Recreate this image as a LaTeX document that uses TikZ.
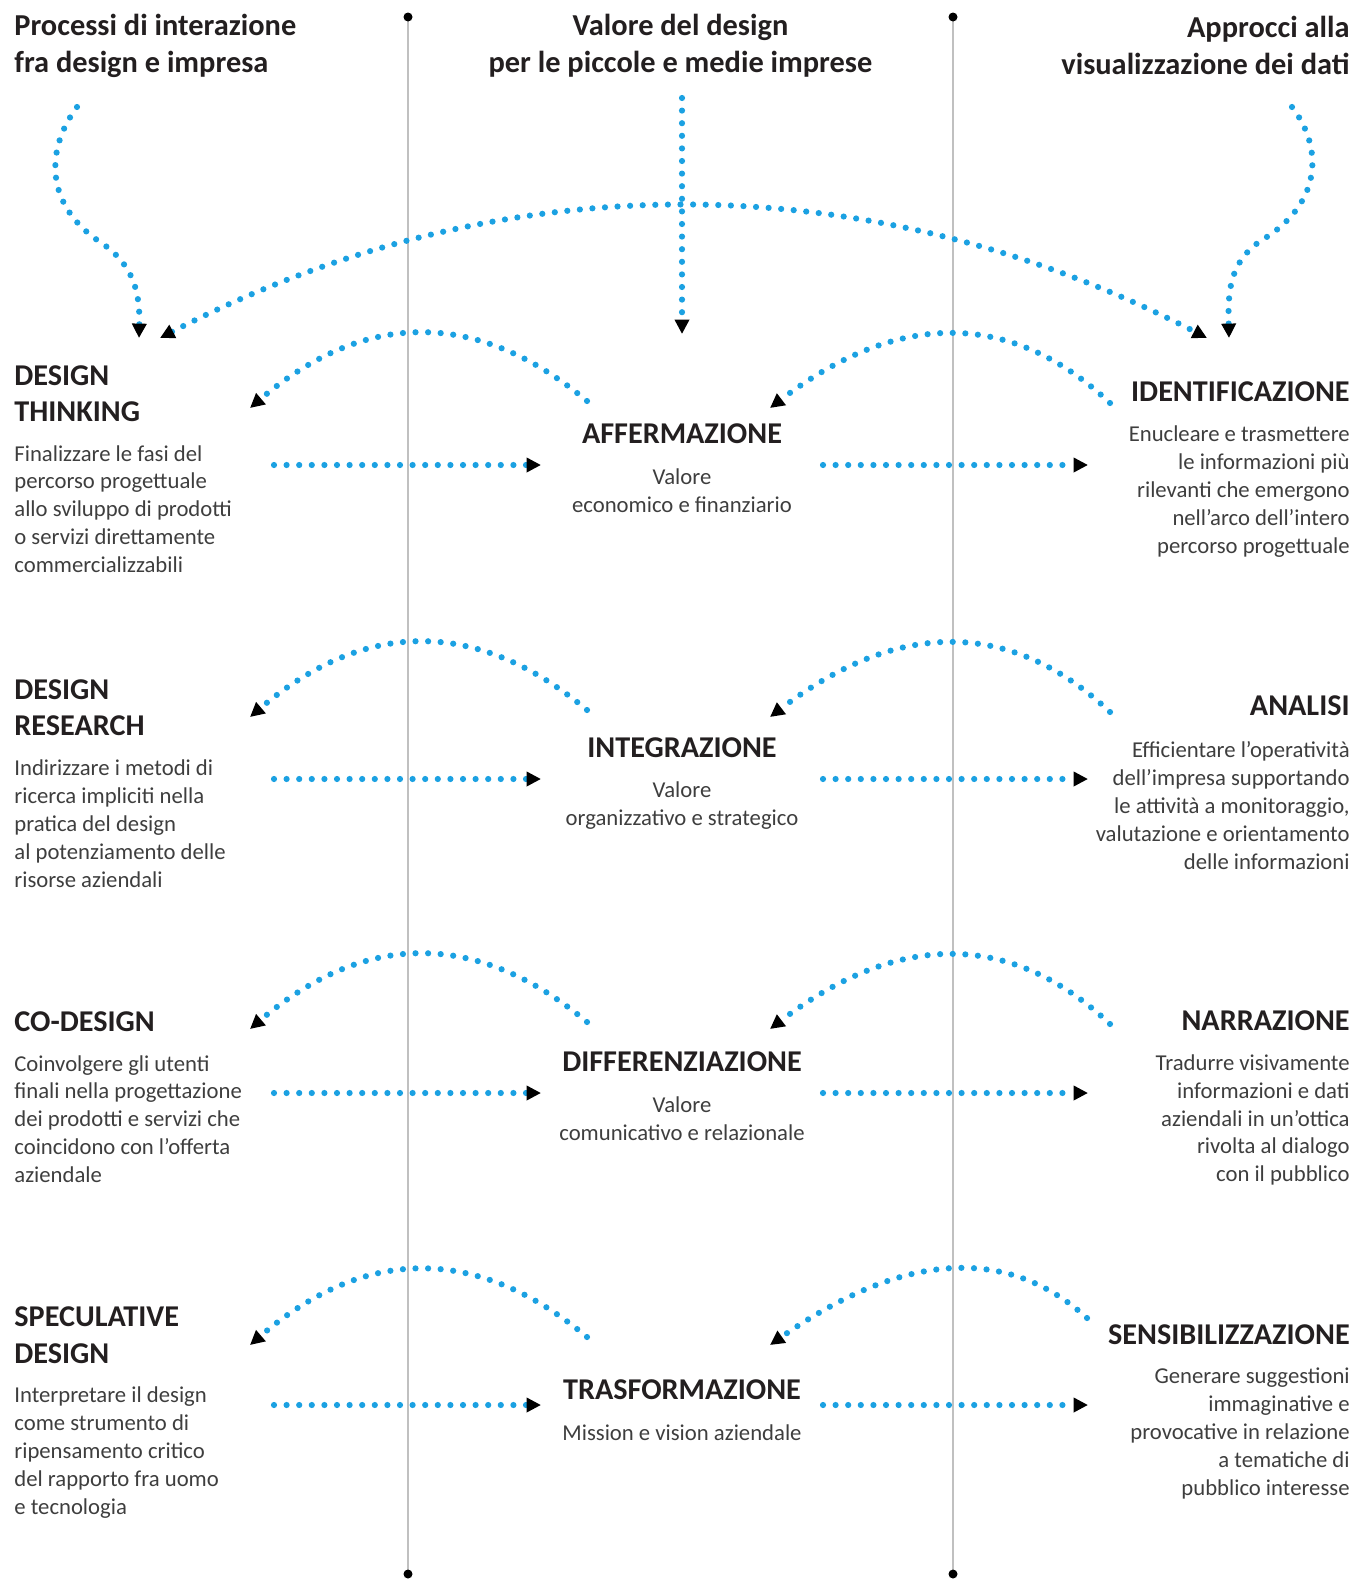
\documentclass[tikz,border=0pt]{standalone}
\usepackage{fontspec}
\setmainfont{Carlito}
\usetikzlibrary{arrows.meta}

\definecolor{dotblue}{RGB}{27,161,226}
\definecolor{rulegray}{RGB}{192,192,192}
\definecolor{inkdark}{RGB}{35,31,32}
\definecolor{inkgray}{RGB}{62,62,62}

\tikzset{
  hdr/.style={font=\fontsize{15.2}{18.5}\selectfont\bfseries, text=inkdark, inner sep=0pt},
  ttl/.style={font=\fontsize{15.1}{18.25}\selectfont\bfseries, text=inkdark, inner sep=0pt},
  txt/.style={font=\fontsize{11.35}{13.95}\selectfont, text=inkgray, inner sep=0pt},
  dots/.style={draw=dotblue, line width=3.1pt, line cap=round, dash pattern=on 0pt off 6.3pt},
  dotarrow/.style={dots, -{Triangle[length=7.2pt,width=7pt,color=black,fill=black]}},
  rule/.style={draw=rulegray, line width=1pt},
}

\begin{document}
\begin{tikzpicture}[x=0.5pt,y=0.5pt,yscale=-1,xscale=1]
\useasboundingbox (0,0) rectangle (1356,1579);

%Vertical rules
\coordinate (topl) at (408,17); \coordinate (botl) at (408,1574);
\coordinate (topr) at (953,17); \coordinate (botr) at (953,1574);
\draw [rule] (topl) -- (botl);
\draw [rule] (topr) -- (botr);
\fill [black] (topl) circle (4.5) (botl) circle (4.5) (topr) circle (4.5) (botr) circle (4.5);

% Text Node
\node [hdr, anchor=west, align=left] (hproc) at (14,46) {Processi di interazione\\fra design e impresa};
% Text Node
\node [hdr, anchor=center, align=center] (hval) at (680.5,46) {Valore del design\\per le piccole e medie imprese};
% Text Node
\node [hdr, anchor=east, align=right] (happ) at (1350,45) {Approcci alla\\visualizzazione dei dati};

% Text Node
\node [ttl, anchor=west, align=left] (dthink) at (14,393.5) {DESIGN\\THINKING};
\node [txt, anchor=west, align=left] (dthinkb) at (14,509) {Finalizzare le fasi del\\percorso progettuale\\allo sviluppo di prodotti\\o servizi direttamente\\commercializzabili};
\node [ttl] (affer) at (682,434) {AFFERMAZIONE};
\node [txt, align=center] (afferb) at (682,491) {Valore\\economico e finanziario};
\node [ttl, anchor=east] (ident) at (1350,391.5) {IDENTIFICAZIONE};
\node [txt, anchor=east, align=right] (identb) at (1350,491.5) {Enucleare e trasmettere\\le informazioni più\\rilevanti che emergono\\nell’arco dell’intero\\percorso progettuale};

% Text Node
\node [ttl, anchor=west, align=left] (dres) at (14,707.5) {DESIGN\\RESEARCH};
\node [txt, anchor=west, align=left] (dresb) at (14,823.5) {Indirizzare i metodi di\\ricerca impliciti nella\\pratica del design\\al potenziamento delle\\risorse aziendali};
\node [ttl] (integ) at (682,748) {INTEGRAZIONE};
\node [txt, align=center] (integb) at (682,805.5) {Valore\\organizzativo e strategico};
\node [ttl, anchor=east] (anal) at (1350,705.5) {ANALISI};
\node [txt, anchor=east, align=right] (analb) at (1350,805.5) {Efficientare l’operatività\\dell’impresa supportando\\le attività a monitoraggio,\\valutazione e orientamento\\delle informazioni};

% Text Node
\node [ttl, anchor=west] (codes) at (14,1021.5) {CO-DESIGN};
\node [txt, anchor=west, align=left] (codesb) at (14,1119) {Coinvolgere gli utenti\\finali nella progettazione\\dei prodotti e servizi che\\coincidono con l’offerta\\aziendale};
\node [ttl] (diff) at (682,1061.5) {DIFFERENZIAZIONE};
\node [txt, align=center] (diffb) at (682,1119) {Valore\\comunicativo e relazionale};
\node [ttl, anchor=east] (narr) at (1350,1020.5) {NARRAZIONE};
\node [txt, anchor=east, align=right] (narrb) at (1350,1120) {Tradurre visivamente\\informazioni e dati\\aziendali in un’ottica\\rivolta al dialogo\\con il pubblico};

% Text Node
\node [ttl, anchor=west, align=left] (spec) at (14,1335) {SPECULATIVE\\DESIGN};
\node [txt, anchor=west, align=left] (specb) at (14,1452.5) {Interpretare il design\\come strumento di\\ripensamento critico\\del rapporto fra uomo\\e tecnologia};
\node [ttl] (trasf) at (682,1389.5) {TRASFORMAZIONE};
\node [txt] (trasfb) at (682,1432.5) {Mission e vision aziendale};
\node [ttl, anchor=east] (sens) at (1350,1334.5) {SENSIBILIZZAZIONE};
\node [txt, anchor=east, align=right] (sensb) at (1350,1433.5) {Generare suggestioni\\immaginative e\\provocative in relazione\\a tematiche di\\pubblico interesse};

%Curve Lines (top)
\coordinate (sl) at (77,107); \coordinate (el) at (139,338);
\coordinate (sr) at (1292,107); \coordinate (er) at (1229,338);
\coordinate (sc) at (682,98); \coordinate (ec) at (682,334);
\coordinate (al) at (160,338); \coordinate (ar) at (1207,338);
\draw [dotarrow] (sl) .. controls (45,150) and (45,205) .. (100,242) .. controls (135,265) and (140,295) .. (el);
\draw [dotarrow] (sr) .. controls (1325,150) and (1320,205) .. (1262,240) .. controls (1228,262) and (1228,295) .. (er);
\draw [dotarrow] (sc) -- (ec);
\draw [dotarrow, {Triangle[length=7.2pt,width=7pt,color=black,fill=black]}-{Triangle[length=7.2pt,width=7pt,color=black,fill=black]}] (al) .. controls (500,162) and (867,162) .. (ar);

%Curve Lines (row 1)
\coordinate (l1s) at (587,401); \coordinate (l1e) at (250,408);
\coordinate (r1s) at (1110,403); \coordinate (r1e) at (770,408);
\coordinate (h1a) at (274,465); \coordinate (h1b) at (541,465);
\coordinate (h1c) at (823,465); \coordinate (h1d) at (1088,465);
\draw [dotarrow] (l1s) .. controls (476,308) and (364,311) .. (l1e);
\draw [dotarrow] (r1s) .. controls (1010,309) and (897,311) .. (r1e);
\draw [dotarrow] (h1a) -- (h1b);
\draw [dotarrow] (h1c) -- (h1d);

%Curve Lines (row 2)
\coordinate (l2s) at (587,710); \coordinate (l2e) at (250,717);
\coordinate (r2s) at (1110,712); \coordinate (r2e) at (770,717);
\coordinate (h2a) at (274,779); \coordinate (h2b) at (541,779);
\coordinate (h2c) at (823,779); \coordinate (h2d) at (1088,779);
\draw [dotarrow] (l2s) .. controls (476,617) and (364,620) .. (l2e);
\draw [dotarrow] (r2s) .. controls (1010,618) and (897,620) .. (r2e);
\draw [dotarrow] (h2a) -- (h2b);
\draw [dotarrow] (h2c) -- (h2d);

%Curve Lines (row 3)
\coordinate (l3s) at (587,1022); \coordinate (l3e) at (250,1029);
\coordinate (r3s) at (1110,1024); \coordinate (r3e) at (770,1029);
\coordinate (h3a) at (274,1093); \coordinate (h3b) at (541,1093);
\coordinate (h3c) at (823,1093); \coordinate (h3d) at (1088,1093);
\draw [dotarrow] (l3s) .. controls (476,929) and (364,932) .. (l3e);
\draw [dotarrow] (r3s) .. controls (1010,930) and (897,932) .. (r3e);
\draw [dotarrow] (h3a) -- (h3b);
\draw [dotarrow] (h3c) -- (h3d);

%Curve Lines (row 4)
\coordinate (l4s) at (587,1337); \coordinate (l4e) at (250,1345);
\coordinate (r4s) at (1087,1318); \coordinate (r4e) at (770,1345);
\coordinate (h4a) at (274,1405); \coordinate (h4b) at (541,1405);
\coordinate (h4c) at (823,1405); \coordinate (h4d) at (1088,1405);
\draw [dotarrow] (l4s) .. controls (476,1244) and (364,1247) .. (l4e);
\draw [dotarrow] (r4s) .. controls (1006,1244) and (901,1253) .. (r4e);
\draw [dotarrow] (h4a) -- (h4b);
\draw [dotarrow] (h4c) -- (h4d);
\end{tikzpicture}
\end{document}
